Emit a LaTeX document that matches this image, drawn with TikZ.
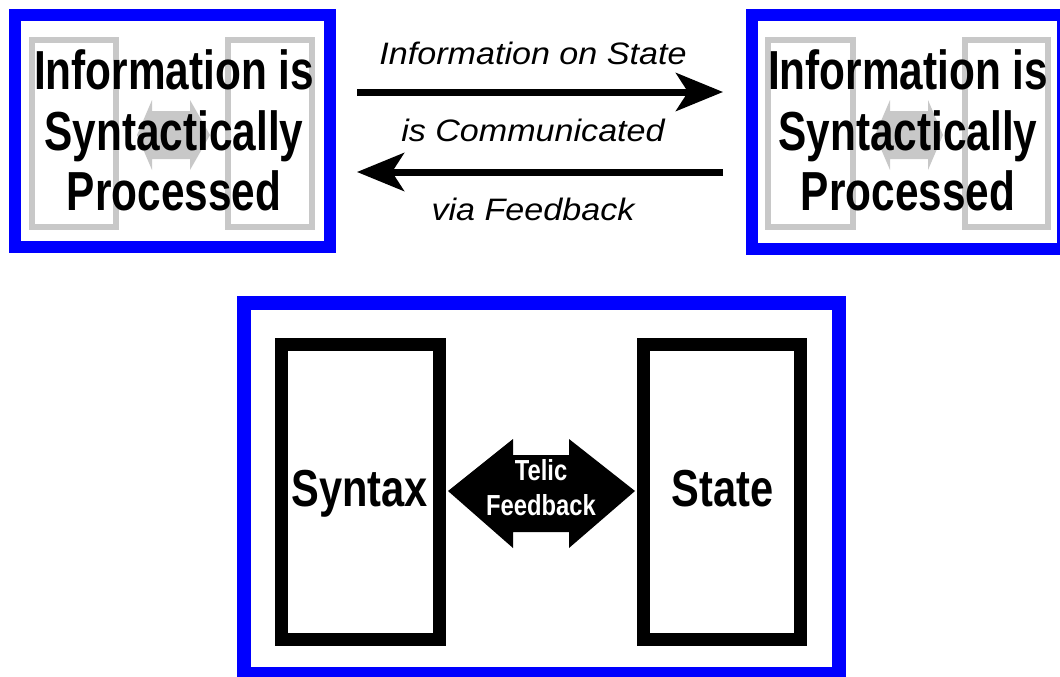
\documentclass[tikz,border=0pt]{standalone}
\usepackage{fontspec}
\setmainfont{Liberation Sans}
\newfontfamily\boxfont[FakeStretch=0.77]{Liberation Sans}
\newfontfamily\rectfont[FakeStretch=0.8]{Liberation Sans}
\newfontfamily\telicfont[FakeStretch=0.82]{Liberation Sans}
\newfontfamily\arrfont[FakeStretch=1.1]{Liberation Sans}
\usetikzlibrary{arrows.meta}
\definecolor{graylt}{RGB}{200,200,200}
\begin{document}
\begin{tikzpicture}[x=1pt,y=-1pt,
  bluebox/.style={draw=blue, line width=12pt, inner sep=0pt},
  bigbluebox/.style={draw=blue, line width=14pt, inner sep=0pt},
  graybox/.style={draw=graylt, line width=6pt},
  grayarrow/.style={fill=graylt},
  blackbox/.style={draw=black, line width=13pt, inner sep=0pt},
  toptext/.style={inner sep=0pt, anchor=base, font=\boxfont\bfseries\fontsize{55}{60}\selectfont},
  rectext/.style={inner sep=0pt, anchor=base, font=\rectfont\bfseries\fontsize{52}{58}\selectfont},
  telictext/.style={inner sep=0pt, anchor=base, text=white, font=\telicfont\bfseries\fontsize{29}{34}\selectfont},
  arrtext/.style={inner sep=0pt, anchor=base, font=\arrfont\itshape\fontsize{31}{36}\selectfont},
  conn/.style={line width=7pt, -{Stealth[length=47pt, width=38pt, inset=12pt]}}
]
\useasboundingbox (0,0) rectangle (1060,677);
\fill[white] (0,0) rectangle (1060,677);

% ---------- top left box ----------
\draw[graybox] (32,40) rectangle (116,227);
\draw[graybox] (228,40) rectangle (312,227);
\fill[grayarrow] (137,135) -- (152,100) -- (152,111) -- (190,111) -- (190,100) -- (210,135)
  -- (190,170) -- (190,159) -- (152,159) -- (152,170) -- cycle;
\node[bluebox, minimum width=315pt, minimum height=231.5pt] (lbox) at (172,130.75) {};
\node[toptext] (l1) at (174,89) {Information is};
\node[toptext] (l2) at (174,150) {Syntactically};
\node[toptext] (l3) at (174,210) {Processed};

% ---------- top right box ----------
\draw[graybox] (768,40) rectangle (853,227);
\draw[graybox] (965,40) rectangle (1048,227);
\fill[grayarrow] (875,135) -- (890,100) -- (890,111) -- (928,111) -- (928,100) -- (943,135)
  -- (928,170) -- (928,159) -- (890,159) -- (890,170) -- cycle;
\node[bluebox, minimum width=311pt, minimum height=234pt] (rbox) at (907.5,132) {};
\node[toptext] (r1) at (908,89) {Information is};
\node[toptext] (r2) at (908,150) {Syntactically};
\node[toptext] (r3) at (908,210) {Processed};

% ---------- connectors between top boxes ----------
\draw[conn, shorten <=21.5pt, shorten >=23pt]
  ([yshift=38.75pt]lbox.east) -- ([yshift=38.75pt]lbox.east -| rbox.west);
\draw[conn, shorten <=23pt, shorten >=21.5pt]
  ([yshift=-41.25pt]lbox.east -| rbox.west) -- ([yshift=-41.25pt]lbox.east);
\node[arrtext] (m1) at (533,65) {Information on State};
\node[arrtext] (m2) at (533,141) {is Communicated};
\node[arrtext] (m3) at (533,220) {via Feedback};

% ---------- bottom box ----------
\node[bigbluebox, minimum width=595pt, minimum height=371.5pt] (bbox) at (541.5,488.25) {};
\node[blackbox, minimum width=157.5pt, minimum height=294.5pt] (syn) at (360.25,491.75) {};
\node[blackbox, minimum width=157pt, minimum height=294.5pt] (sta) at (722,491.75) {};
\node[rectext] (syntxt) at (359.5,506) {Syntax};
\node[rectext] (statxt) at (722.5,506) {State};
\fill[black] (448,491) -- (513,439) -- (513,455) -- (569,455) -- (569,439) -- (635,491)
  -- (569,548) -- (569,532) -- (513,532) -- (513,548) -- cycle;
\node[telictext] (telic) at (541,480) {Telic};
\node[telictext] (fb) at (541,515) {Feedback};
\end{tikzpicture}
\end{document}
